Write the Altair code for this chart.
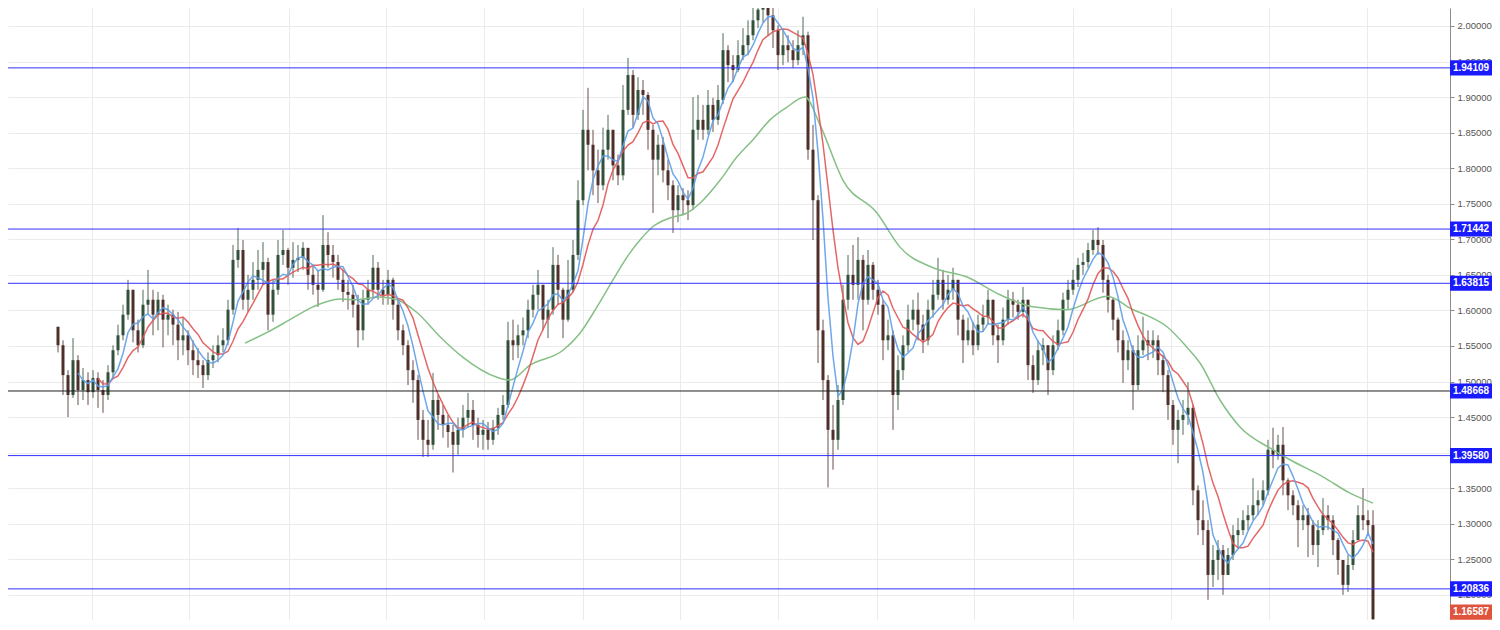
import altair as alt
import pandas as pd

# ---------------- data (weekly candles) ----------------
close = [
    1.551, 1.509, 1.481, 1.530, 1.488, 1.502, 1.485, 1.505, 1.488, 1.481, 1.513, 1.544, 1.565, 1.594, 1.629, 1.572,
    1.551, 1.608, 1.615, 1.594, 1.615, 1.587, 1.594, 1.580, 1.558, 1.565, 1.544, 1.530, 1.523, 1.509, 1.530, 1.537,
    1.551, 1.558, 1.601, 1.671, 1.685, 1.615, 1.629,
    1.643, 1.657, 1.668, 1.594, 1.629, 1.678, 1.685, 1.660, 1.671, 1.674, 1.688, 1.650, 1.636, 1.629, 1.692, 1.678,
    1.668, 1.643, 1.626, 1.622, 1.608, 1.572, 1.615, 1.629, 1.660, 1.629, 1.622, 1.643, 1.608, 1.572, 1.551, 1.516,
    1.502, 1.446, 1.418, 1.411, 1.474, 1.453,
    1.439, 1.429, 1.411, 1.432, 1.449, 1.460, 1.439, 1.425, 1.432, 1.418, 1.435, 1.453, 1.467, 1.558, 1.551, 1.565,
    1.572, 1.601, 1.622, 1.636, 1.587, 1.601, 1.664, 1.629, 1.587, 1.629, 1.678, 1.755, 1.854, 1.833, 1.797, 1.776,
    1.826, 1.854, 1.804, 1.790, 1.882, 1.931,
    1.875, 1.910, 1.903, 1.854, 1.812, 1.833, 1.797, 1.776, 1.741, 1.762, 1.755, 1.748, 1.854, 1.868, 1.854, 1.889,
    1.868, 1.896, 1.966, 1.945, 1.938, 1.959, 1.973, 1.987, 2.008, 2.023, 2.030, 2.015, 1.994, 1.959, 1.973, 1.966,
    1.952, 1.973, 1.987, 1.826, 1.755, 1.572,
    1.502, 1.432, 1.418, 1.474, 1.615, 1.650, 1.636, 1.671, 1.615, 1.664, 1.629, 1.608, 1.558, 1.565, 1.481, 1.516,
    1.551, 1.587, 1.601, 1.580, 1.558, 1.601, 1.622, 1.643, 1.615, 1.629, 1.643, 1.587, 1.558, 1.572, 1.551, 1.580,
    1.590, 1.615, 1.565, 1.558,
    1.587, 1.615, 1.608, 1.598, 1.615, 1.523, 1.502, 1.544, 1.551, 1.516, 1.551, 1.572, 1.615, 1.629, 1.643, 1.664,
    1.668, 1.685, 1.699, 1.692, 1.643, 1.615, 1.587, 1.558, 1.530, 1.544, 1.495, 1.544, 1.558, 1.551, 1.558, 1.530,
    1.509, 1.467, 1.432, 1.446, 1.453, 1.463,
    1.347, 1.305, 1.291, 1.228, 1.249, 1.263, 1.228, 1.256, 1.284, 1.291, 1.305, 1.312, 1.326, 1.333, 1.347, 1.404,
    1.397, 1.411, 1.361, 1.340, 1.326, 1.305, 1.312, 1.298, 1.270, 1.291, 1.312, 1.305, 1.277, 1.249, 1.214, 1.242,
    1.277, 1.312, 1.305, 1.298, 1.16587,
]
high = [
    1.577, 1.558, 1.516, 1.561, 1.537, 1.519, 1.513, 1.516, 1.513, 1.502, 1.523, 1.551, 1.580, 1.608, 1.643, 1.629,
    1.587, 1.629, 1.657, 1.629, 1.626, 1.622, 1.608, 1.601, 1.598, 1.590, 1.572, 1.558, 1.547, 1.530, 1.541, 1.551,
    1.565, 1.575, 1.615, 1.692, 1.716, 1.699, 1.650,
    1.668, 1.685, 1.696, 1.674, 1.643, 1.699, 1.713, 1.688, 1.696, 1.692, 1.696, 1.678, 1.664, 1.657, 1.734, 1.710,
    1.692, 1.678, 1.657, 1.643, 1.636, 1.622, 1.629, 1.643, 1.678, 1.668, 1.643, 1.657, 1.646, 1.615, 1.580, 1.558,
    1.530, 1.509, 1.460, 1.446, 1.512, 1.481,
    1.467, 1.453, 1.439, 1.449, 1.467, 1.484, 1.474, 1.449, 1.446, 1.443, 1.446, 1.463, 1.481, 1.584, 1.587, 1.580,
    1.590, 1.615, 1.636, 1.657, 1.636, 1.615, 1.689, 1.678, 1.632, 1.671, 1.699, 1.783, 1.882, 1.913, 1.854, 1.826,
    1.857, 1.875, 1.854, 1.819, 1.917, 1.955,
    1.938, 1.928, 1.924, 1.907, 1.861, 1.847, 1.844, 1.812, 1.783, 1.776, 1.772, 1.769, 1.900, 1.903, 1.889, 1.910,
    1.899, 1.917, 1.990, 1.973, 1.959, 1.980, 1.997, 2.008, 2.030, 2.051, 2.058, 2.044, 2.034, 2.001, 1.994, 1.987,
    1.980, 1.994, 2.013, 1.992, 1.861, 1.762,
    1.587, 1.509, 1.467, 1.495, 1.636, 1.678, 1.692, 1.703, 1.678, 1.685, 1.668, 1.643, 1.615, 1.587, 1.572, 1.537,
    1.565, 1.608, 1.615, 1.625, 1.594, 1.615, 1.643, 1.674, 1.657, 1.650, 1.660, 1.643, 1.594, 1.590, 1.584, 1.594,
    1.608, 1.629, 1.615, 1.580,
    1.604, 1.629, 1.626, 1.615, 1.633, 1.615, 1.537, 1.558, 1.561, 1.551, 1.565, 1.587, 1.625, 1.643, 1.657, 1.674,
    1.681, 1.695, 1.713, 1.717, 1.699, 1.650, 1.618, 1.590, 1.572, 1.558, 1.551, 1.565, 1.591, 1.572, 1.572, 1.565,
    1.537, 1.516, 1.474, 1.460, 1.474, 1.499,
    1.467, 1.354, 1.333, 1.305, 1.270, 1.277, 1.270, 1.266, 1.298, 1.308, 1.319, 1.326, 1.364, 1.347, 1.361, 1.418,
    1.435, 1.425, 1.436, 1.364, 1.347, 1.333, 1.326, 1.322, 1.305, 1.305, 1.336, 1.326, 1.312, 1.280, 1.242, 1.256,
    1.291, 1.326, 1.350, 1.319, 1.319,
]
low = [
    1.541, 1.481, 1.450, 1.477, 1.467, 1.474, 1.467, 1.477, 1.463, 1.456, 1.474, 1.505, 1.537, 1.558, 1.587, 1.555,
    1.541, 1.547, 1.594, 1.565, 1.572, 1.548, 1.565, 1.551, 1.530, 1.537, 1.523, 1.509, 1.505, 1.491, 1.502, 1.519,
    1.527, 1.541, 1.551, 1.594, 1.660, 1.601, 1.598,
    1.615, 1.629, 1.636, 1.572, 1.584, 1.622, 1.664, 1.636, 1.646, 1.654, 1.657, 1.629, 1.622, 1.605, 1.626, 1.660,
    1.646, 1.629, 1.612, 1.601, 1.590, 1.548, 1.558, 1.608, 1.618, 1.615, 1.608, 1.608, 1.587, 1.558, 1.537, 1.495,
    1.470, 1.418, 1.394, 1.394, 1.404, 1.432,
    1.421, 1.407, 1.372, 1.397, 1.421, 1.435, 1.418, 1.407, 1.404, 1.404, 1.411, 1.425, 1.446, 1.463, 1.530, 1.533,
    1.551, 1.561, 1.590, 1.601, 1.572, 1.561, 1.594, 1.608, 1.561, 1.584, 1.626, 1.671, 1.748, 1.797, 1.762, 1.751,
    1.769, 1.812, 1.783, 1.776, 1.783, 1.875,
    1.857, 1.868, 1.875, 1.826, 1.737, 1.790, 1.780, 1.755, 1.709, 1.724, 1.734, 1.727, 1.741, 1.840, 1.840, 1.847,
    1.851, 1.861, 1.890, 1.921, 1.921, 1.935, 1.952, 1.959, 1.980, 1.997, 2.005, 1.987, 1.969, 1.938, 1.945, 1.949,
    1.941, 1.945, 1.959, 1.812, 1.699, 1.526,
    1.474, 1.351, 1.376, 1.404, 1.467, 1.601, 1.615, 1.615, 1.572, 1.608, 1.615, 1.594, 1.530, 1.544, 1.432, 1.460,
    1.502, 1.541, 1.572, 1.558, 1.540, 1.551, 1.590, 1.615, 1.601, 1.608, 1.615, 1.565, 1.526, 1.551, 1.537, 1.544,
    1.570, 1.580, 1.551, 1.526,
    1.551, 1.580, 1.590, 1.587, 1.590, 1.502, 1.484, 1.495, 1.523, 1.481, 1.509, 1.544, 1.565, 1.601, 1.622, 1.633,
    1.650, 1.660, 1.678, 1.678, 1.625, 1.597, 1.572, 1.541, 1.498, 1.516, 1.460, 1.488, 1.537, 1.530, 1.533, 1.509,
    1.485, 1.446, 1.411, 1.385, 1.425, 1.439,
    1.326, 1.284, 1.270, 1.193, 1.211, 1.221, 1.200, 1.228, 1.249, 1.266, 1.284, 1.291, 1.305, 1.312, 1.326, 1.340,
    1.378, 1.390, 1.340, 1.319, 1.312, 1.267, 1.291, 1.253, 1.256, 1.239, 1.284, 1.291, 1.256, 1.228, 1.200, 1.204,
    1.235, 1.277, 1.291, 1.284, 1.148,
]

# slow (green) moving average: bar position and value
green_pos = [37.4, 41.8, 46.4, 51.0, 56.4, 59.8, 64.4, 67.8, 71.8, 76.4, 81.0, 87.8, 90.4, 94.4, 101.0, 104.4,
             107.8, 111.0, 114.4, 116.4, 119.0, 122.4, 125.8, 129.0, 132.4, 135.8, 139.0, 142.4, 145.8, 149.4,
             152.4, 157.0, 163.8, 168.4, 175.0, 181.8, 188.4, 195.0, 201.8, 209.8, 215.0, 218.4, 221.8, 225.8,
             228.4, 232.4, 236.4, 243.0, 246.4, 253.0, 258.4, 263.0]
green_val = [1.554, 1.569, 1.587, 1.605, 1.616, 1.615, 1.619, 1.615, 1.597, 1.563, 1.534, 1.506, 1.502, 1.523,
             1.544, 1.568, 1.605, 1.643, 1.681, 1.699, 1.718, 1.730, 1.737, 1.755, 1.783, 1.816, 1.840, 1.868,
             1.886, 1.900, 1.861, 1.783, 1.737, 1.689, 1.660, 1.647, 1.622, 1.605, 1.601, 1.620, 1.601, 1.591,
             1.577, 1.548, 1.526, 1.474, 1.436, 1.404, 1.390, 1.366, 1.343, 1.329]

levels = [1.94109, 1.71442, 1.63815, 1.48668, 1.39580, 1.20836]
level_text = ["1.94109", "1.71442", "1.63815", "1.48668", "1.39580", "1.20836"]
level_line_color = ["#2f2fff", "#2f2fff", "#2f2fff", "#202020", "#2f2fff", "#2f2fff"]
last_price = [1.16587]
last_text = ["1.16587"]

y_ticks = [1.20, 1.25, 1.30, 1.35, 1.40, 1.45, 1.50, 1.55, 1.60, 1.65, 1.70, 1.75, 1.80, 1.85, 1.90, 1.95, 2.00]
x_grid = [6.8, 26.2, 46.2, 65.6, 85.2, 105.0, 124.4, 144.0, 163.8, 183.2, 203.0, 222.6, 242.2, 261.8]

ma_fast, ma_mid = 5, 9

# ---------------- chart ----------------
W, H = 1442, 612
xscale = alt.Scale(domain=[-10, 278.4], nice=False, zero=False)
yscale = alt.Scale(domain=[1.1646, 2.0253], nice=False, zero=False)

x_axis = alt.Axis(values=x_grid, labels=False, ticks=False, domain=False, grid=True,
                  gridColor="#ebebeb", gridWidth=1, title=None)
y_axis = alt.Axis(orient="right", values=y_ticks, format=".5f", title=None, grid=True, gridColor="#ebebeb",
                  domain=True, domainColor="#8c8c8c", tickColor="#8c8c8c", tickSize=4,
                  labelColor="#555555", labelFont="Liberation Sans", labelFontSize=9.5, labelPadding=3,
                  labelOverlap=False, labelFlush=False)


def X(field):
    return alt.X(field, scale=xscale, axis=x_axis)


def Y(field):
    return alt.Y(field, scale=yscale, axis=y_axis)


df = pd.DataFrame({"i": list(range(len(close))), "close": close, "high": high, "low": low})
srt = [alt.SortField("i")]

base = (
    alt.Chart(df)
    .transform_window(prev="lag(close)", sort=srt)
    .transform_calculate(
        open="isValid(datum.prev) ? datum.prev : datum.high",
        dir="datum.close >= (isValid(datum.prev) ? datum.prev : datum.high) ? 'up' : 'down'",
    )
)
dir_color = alt.Color("dir:N", scale=alt.Scale(domain=["up", "down"], range=["#33503a", "#4e2f2a"]), legend=None)

wicks = base.mark_rule(strokeWidth=1, clip=True, opacity=0.85).encode(
    x=X("i:Q"), y=Y("low:Q"), y2="high:Q", color=dir_color
)
bodies = base.mark_rule(strokeWidth=3, clip=True).encode(
    x=X("i:Q"), y=Y("open:Q"), y2="close:Q", color=dir_color
)


def ma_layer(n, color):
    return (
        alt.Chart(df)
        .transform_window(rn="row_number()", sort=srt)
        .transform_window(ma="mean(close)", frame=[-(n - 1), 0], sort=srt)
        .transform_filter(f"datum.rn >= {n}")
        .mark_line(strokeWidth=1.5, color=color, clip=True, opacity=0.9)
        .encode(x=X("i:Q"), y=Y("ma:Q"))
    )


ma_blue = ma_layer(ma_fast, "#5e9ee8")
ma_red = ma_layer(ma_mid, "#e05656")
gdf = pd.DataFrame({"pos": green_pos, "val": green_val})
ma_green = alt.Chart(gdf).mark_line(strokeWidth=1.5, color="#86c086", clip=True, interpolate="monotone").encode(
    x=X("pos:Q"), y=Y("val:Q")
)

lv = pd.DataFrame({"level": levels, "label": level_text, "col": level_line_color})
level_lines = alt.Chart(lv).mark_rule(strokeWidth=1).encode(
    y=Y("level:Q"), stroke=alt.Stroke("col:N", scale=None)
)

BOX = "M-1,-0.36L1,-0.36L1,0.36L-1,0.36Z"
BOX_UP = "M-1,-0.69L1,-0.69L1,0.03L-1,0.03Z"
box_x = 1463
box_size = 42 * 42
level_boxes = alt.Chart(lv).mark_point(shape=BOX, filled=True, size=box_size, opacity=1, strokeWidth=0,
                                       fill="#1a1aff").encode(
    x=alt.value(box_x), y=Y("level:Q")
)
level_texts = alt.Chart(lv).mark_text(align="center", baseline="middle", fill="white", fontSize=10,
                                      fontWeight="bold", font="Liberation Sans").encode(
    x=alt.value(box_x), y=Y("level:Q"), text="label:N"
)

lp = pd.DataFrame({"price": last_price, "label": last_text})
last_box = alt.Chart(lp).mark_point(shape=BOX_UP, filled=True, size=box_size, opacity=1, strokeWidth=0,
                                    fill="#e0533c").encode(
    x=alt.value(box_x), y=Y("price:Q")
)
last_label = alt.Chart(lp).mark_text(align="center", baseline="middle", fill="white", fontSize=10,
                                     fontWeight="bold", font="Liberation Sans", dy=-7).encode(
    x=alt.value(box_x), y=Y("price:Q"), text="label:N"
)

chart = (
    alt.layer(wicks, bodies, ma_green, ma_red, ma_blue, level_lines, level_boxes, level_texts, last_box, last_label)
    .properties(
        width=W,
        height=H,
        autosize=alt.AutoSizeParams(type="none"),
        padding={"left": 0, "top": 0, "right": 42, "bottom": 0},
        background="white",
    )
    .configure_view(strokeWidth=0)
)

chart.save("out.html", embed_options={"renderer": "svg", "actions": False})
